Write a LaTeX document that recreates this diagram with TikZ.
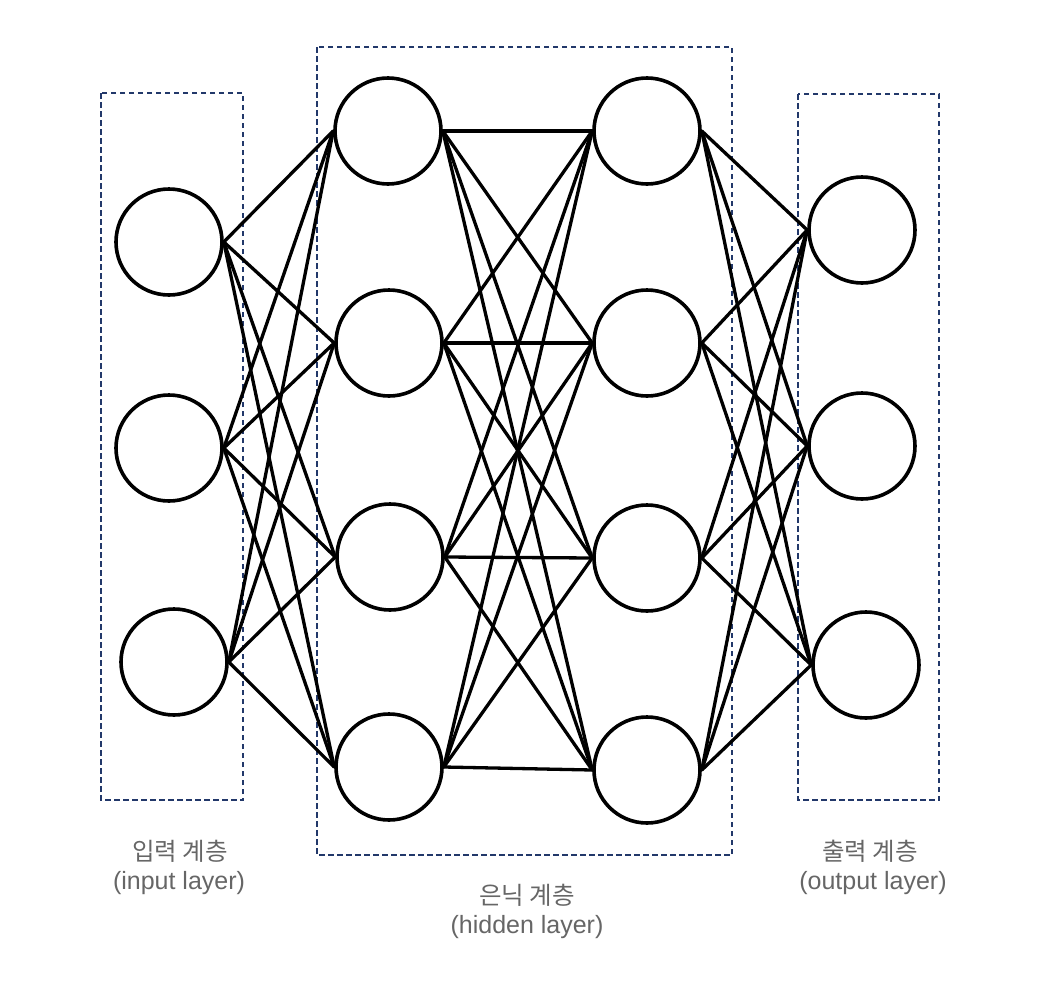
\documentclass[tikz,border=0pt]{standalone}
\usepackage{fontspec}
\setmainfont{Liberation Sans}
\newfontfamily\kofont{Noto Sans CJK KR}
\definecolor{boxblue}{HTML}{22386A}
\definecolor{labelgray}{HTML}{666666}
\begin{document}
\begin{tikzpicture}[x=1pt,y=-1pt,
  neuron/.style={circle,draw=black,line width=3.6pt,minimum size=106pt,inner sep=0pt},
  conn/.style={draw=black,line width=3.3pt,line cap=round},
  layerbox/.style={draw=boxblue,line width=2.6pt,dash pattern=on 5.5pt off 3.5pt},
  kolabel/.style={text=labelgray,font=\kofont\fontsize{24.5}{28}\selectfont,inner sep=0pt},
  enlabel/.style={text=labelgray,font=\fontsize{25}{29}\selectfont,inner sep=0pt}]
\useasboundingbox (0,0) rectangle (1050,988);
% layer boxes
\draw[layerbox] (101,93) rectangle (243,800);
\draw[layerbox] (317,47) rectangle (732,855);
\draw[layerbox] (798,94) rectangle (939,800);
% neurons
\node[neuron] (i1) at (169,242) {};
\node[neuron] (i2) at (169,448) {};
\node[neuron] (i3) at (174,662) {};
\node[neuron] (a1) at (388,131) {};
\node[neuron] (a2) at (389,343) {};
\node[neuron] (a3) at (390,557) {};
\node[neuron] (a4) at (389,767) {};
\node[neuron] (b1) at (647,131) {};
\node[neuron] (b2) at (647,343) {};
\node[neuron] (b3) at (647,558) {};
\node[neuron] (b4) at (647,770) {};
\node[neuron] (o1) at (862,230) {};
\node[neuron] (o2) at (862,446) {};
\node[neuron] (o3) at (866,665) {};
% connectors
\foreach \s in {i1,i2,i3}{\foreach \t in {a1,a2,a3,a4}{\draw[conn] (\s.east) -- (\t.west);}}
\foreach \s in {a1,a2,a3,a4}{\foreach \t in {b1,b2,b3,b4}{\draw[conn] (\s.east) -- (\t.west);}}
\foreach \s in {b1,b2,b3,b4}{\foreach \t in {o1,o2,o3}{\draw[conn] (\s.east) -- (\t.west);}}
% labels
\node[kolabel] (li) at (180,851) {입력 계층};
\node[enlabel] (li2) at (179,883) {(input layer)};
\node[kolabel] (lh) at (527,895) {은닉 계층};
\node[enlabel] (lh2) at (527,927) {(hidden layer)};
\node[kolabel] (lo) at (870,851) {출력 계층};
\node[enlabel] (lo2) at (873,883) {(output layer)};
\end{tikzpicture}
\end{document}
